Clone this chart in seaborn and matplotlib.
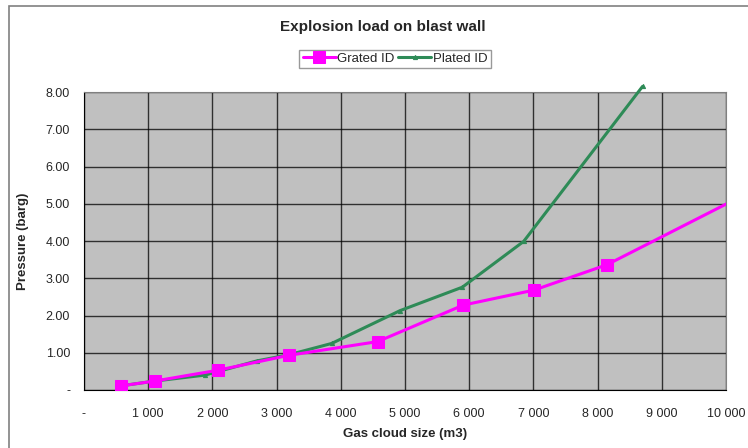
import matplotlib
matplotlib.use("Agg")
import matplotlib.pyplot as plt
import seaborn as sns
import pandas as pd
from matplotlib.patches import Rectangle

# Data
grated_x = [571, 1101, 2083, 3188, 4575, 5909, 7005, 8142, 11300]
grated_y = [0.11, 0.24, 0.53, 0.93, 1.30, 2.28, 2.68, 3.36, 6.13]
plated_x = [571, 1101, 1885, 2690, 3200, 3858, 4922, 5893, 6849, 8700]
plated_y = [0.11, 0.24, 0.40, 0.78, 0.95, 1.25, 2.13, 2.76, 3.99, 8.15]
series_names = ["Grated ID", "Plated ID"]
x_ticks = [0, 1000, 2000, 3000, 4000, 5000, 6000, 7000, 8000, 9000, 10000]
x_tick_labels = ["-", "1 000", "2 000", "3 000", "4 000", "5 000", "6 000", "7 000", "8 000", "9 000", "10 000"]
y_ticks = [0, 1, 2, 3, 4, 5, 6, 7, 8]
y_tick_labels = ["-", "1.00", "2.00", "3.00", "4.00", "5.00", "6.00", "7.00", "8.00"]

sns.set_style("white")
plt.rcParams["font.family"] = ["Liberation Sans Narrow", "Liberation Sans", "DejaVu Sans"]

fig = plt.figure(figsize=(7.48, 4.48), dpi=100)
ax = fig.add_axes([84 / 748, (448 - 390) / 448, (726 - 84) / 748, (390 - 92) / 448])
ax.set_facecolor("#C0C0C0")

df_g = pd.DataFrame({"x": grated_x, "y": grated_y})
df_p = pd.DataFrame({"x": plated_x, "y": plated_y})

sns.lineplot(data=df_g, x="x", y="y", ax=ax, color="#FF00FF", linewidth=2.2,
             marker="s", markersize=8, markeredgecolor="#FF00FF", label=series_names[0],
             sort=False, zorder=4)
sns.lineplot(data=df_p, x="x", y="y", ax=ax, color="#2E8B57", linewidth=2.2,
             marker="^", markersize=3, markeredgecolor="#2E8B57", label=series_names[1],
             sort=False, zorder=3)
for ln in ax.get_lines():
    if ln.get_color() == "#2E8B57":
        ln.set_clip_on(False)

ax.set_xlim(0, 10000)
ax.set_ylim(0, 8)
ax.set_xticks(x_ticks)
ax.set_xticklabels(x_tick_labels, fontsize=9)
ax.set_yticks(y_ticks)
ax.set_yticklabels(y_tick_labels, fontsize=9)
ax.grid(True, color="black", linewidth=1.0, alpha=0.75)
ax.set_axisbelow(True)
ax.tick_params(axis="both", direction="out", length=4, width=0.8, color="black", pad=6)
ax.tick_params(axis="x", pad=9)
for side in ["left", "bottom"]:
    ax.spines[side].set_color("black")
    ax.spines[side].set_linewidth(0.8)
for side in ["top", "right"]:
    ax.spines[side].set_color("#808080")
    ax.spines[side].set_linewidth(0.8)

ax.set_xlabel("Gas cloud size (m3)", fontsize=9.5, fontweight="bold", labelpad=6)
ax.set_ylabel("Pressure (barg)", fontsize=9.5, fontweight="bold", labelpad=12)

ax.legend(loc="center", bbox_to_anchor=(395 / 748, 1 - 59 / 448), bbox_transform=fig.transFigure,
          ncol=2, frameon=True, fancybox=False, edgecolor="#808080", fontsize=9.5,
          handlelength=2.5, handletextpad=0.1, columnspacing=0.3, borderpad=0.25)

fig.text(383 / 748, 1 - 27 / 448, "Explosion load on blast wall", ha="center", va="center",
         fontsize=11, fontweight="bold", family=["Liberation Sans", "DejaVu Sans"])

fig.patches.append(Rectangle((9 / 748, -0.1), 1.2, 1 - 6 / 448 + 0.1, transform=fig.transFigure,
                             fill=False, edgecolor="#808080", linewidth=1.2))

fig.savefig("out.png", dpi=100)
